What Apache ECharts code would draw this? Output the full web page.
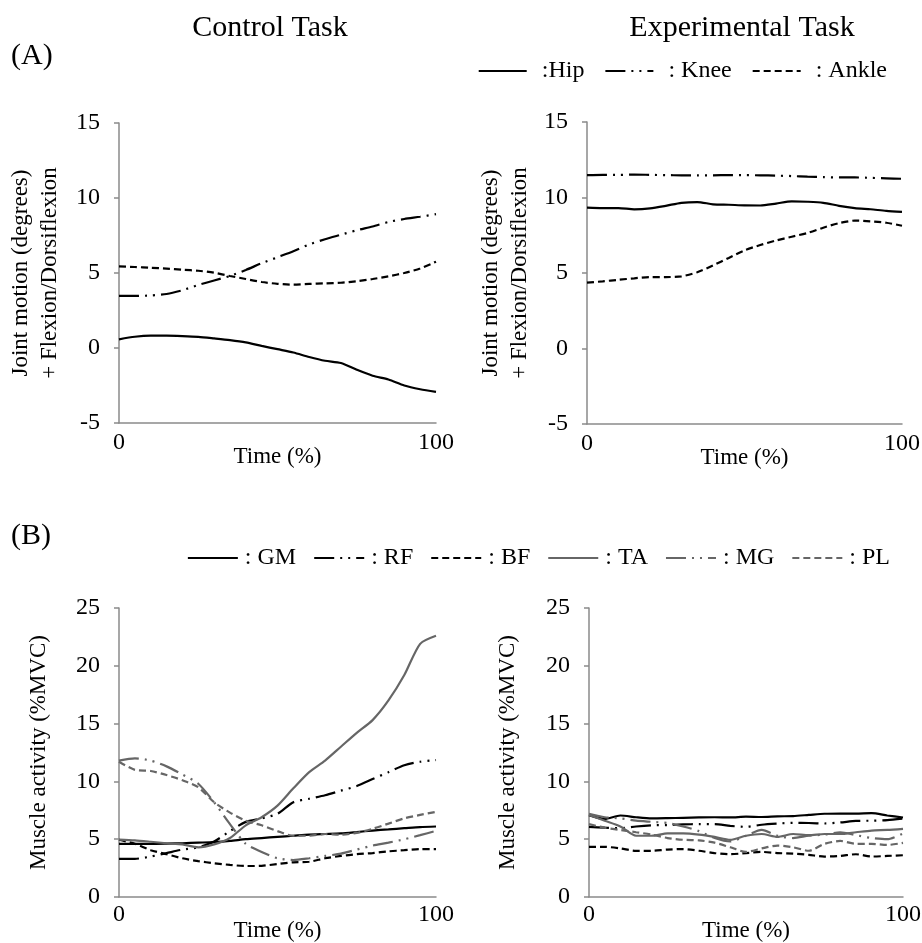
<!DOCTYPE html>
<html>
<head>
<meta charset="utf-8">
<script src="https://cdn.jsdelivr.net/npm/echarts@6/dist/echarts.min.js"></script>
<style>
  html, body { margin: 0; padding: 0; background: #fff; }
  #chart { width: 922px; height: 943px; }
</style>
</head>
<body>
<div id="chart"></div>
<script>
// time axis, % of task
var time = [0, 5, 10, 15, 20, 25, 30, 35, 40, 45, 50, 55, 60, 65, 70, 75, 80, 85, 90, 95, 100];

// (A) joint motion, control task
var ctrlHip   = [0.58, 0.75, 0.82, 0.82, 0.79, 0.74, 0.64, 0.53, 0.38, 0.14, -0.08, -0.3, -0.6, -0.85, -1.0, -1.45, -1.85, -2.1, -2.5, -2.75, -2.93];
var ctrlKnee  = [3.47, 3.47, 3.5, 3.6, 3.85, 4.2, 4.5, 4.8, 5.2, 5.65, 6.05, 6.45, 6.9, 7.25, 7.55, 7.85, 8.1, 8.4, 8.6, 8.75, 8.92];
var ctrlAnkle = [5.44, 5.4, 5.35, 5.29, 5.22, 5.15, 5.02, 4.8, 4.6, 4.4, 4.28, 4.22, 4.27, 4.31, 4.35, 4.45, 4.6, 4.78, 5.0, 5.3, 5.75];

// (A) joint motion, experimental task
var expHip   = [9.33, 9.3, 9.3, 9.22, 9.28, 9.45, 9.65, 9.7, 9.55, 9.52, 9.48, 9.47, 9.6, 9.75, 9.72, 9.65, 9.45, 9.3, 9.22, 9.12, 9.05];
var expKnee  = [11.48, 11.5, 11.5, 11.52, 11.5, 11.48, 11.47, 11.46, 11.47, 11.48, 11.48, 11.47, 11.45, 11.42, 11.38, 11.35, 11.33, 11.33, 11.3, 11.27, 11.24];
var expAnkle = [4.36, 4.45, 4.55, 4.65, 4.73, 4.73, 4.78, 5.05, 5.5, 6.0, 6.5, 6.85, 7.15, 7.4, 7.65, 8.0, 8.3, 8.47, 8.42, 8.33, 8.13];

// (B) muscle activity, control task
var ctrlGM = [4.6, 4.6, 4.6, 4.62, 4.65, 4.7, 4.75, 4.85, 5.0, 5.1, 5.2, 5.3, 5.4, 5.45, 5.5, 5.62, 5.75, 5.85, 5.95, 6.05, 6.1];
var ctrlRF = [3.3, 3.3, 3.5, 3.8, 4.1, 4.3, 4.8, 5.7, 6.5, 6.8, 7.2, 8.2, 8.5, 8.8, 9.2, 9.6, 10.2, 10.8, 11.4, 11.7, 11.85];
var ctrlBF = [4.95, 4.6, 4.05, 3.7, 3.35, 3.1, 2.92, 2.78, 2.68, 2.7, 2.85, 3.0, 3.05, 3.35, 3.55, 3.7, 3.8, 3.95, 4.05, 4.15, 4.15];
var ctrlTA = [4.97, 4.9, 4.78, 4.65, 4.55, 4.3, 4.55, 5.1, 6.2, 6.9, 7.9, 9.4, 10.8, 11.8, 13.0, 14.2, 15.3, 17.0, 19.2, 21.9, 22.6];
var ctrlMG = [11.8, 12.0, 11.8, 11.3, 10.6, 9.8, 8.2, 6.3, 4.6, 3.9, 3.35, 3.2, 3.35, 3.55, 3.75, 4.1, 4.45, 4.7, 5.0, 5.35, 5.72];
var ctrlPL = [11.7, 11.0, 10.9, 10.55, 10.1, 9.5, 8.2, 7.3, 6.6, 6.2, 5.7, 5.3, 5.3, 5.45, 5.4, 5.55, 5.9, 6.35, 6.8, 7.1, 7.37];

// (B) muscle activity, experimental task
var expGM = [7.08, 6.75, 7.05, 6.9, 6.8, 6.82, 6.85, 6.88, 6.9, 6.88, 6.95, 6.92, 6.98, 7.0, 7.1, 7.2, 7.22, 7.22, 7.25, 7.05, 6.88];
var expRF = [6.07, 6.0, 5.95, 6.1, 6.2, 6.22, 6.28, 6.3, 6.3, 6.15, 6.07, 6.25, 6.35, 6.42, 6.4, 6.36, 6.45, 6.58, 6.6, 6.65, 6.79];
var expBF = [4.34, 4.34, 4.2, 3.99, 4.0, 4.1, 4.15, 4.0, 3.8, 3.7, 3.8, 3.9, 3.8, 3.76, 3.65, 3.5, 3.55, 3.7, 3.5, 3.55, 3.61];
var expTA = [7.1, 6.6, 6.1, 5.3, 5.3, 5.5, 5.5, 5.4, 5.2, 4.95, 5.3, 5.45, 5.2, 5.45, 5.35, 5.45, 5.45, 5.6, 5.75, 5.8, 5.9];
var expMG = [7.2, 6.9, 6.8, 6.6, 6.5, 6.4, 6.1, 5.7, 5.1, 4.8, 5.3, 5.8, 5.3, 5.1, 5.3, 5.4, 5.6, 5.35, 5.1, 5.0, 5.5];
var expPL = [6.3, 6.0, 5.8, 5.6, 5.4, 5.1, 4.95, 4.9, 4.7, 4.3, 3.9, 4.2, 4.45, 4.3, 4.0, 4.6, 4.85, 4.6, 4.6, 4.5, 4.68];

var jointNames  = [':Hip', ': Knee', ': Ankle'];
var muscleNames = [': GM', ': RF', ': BF', ': TA', ': MG', ': PL'];

var FONT = 'Liberation Serif';
var AXIS_GREY = '#8a8a8a';
var BLACK = '#000';
var GREY = '#666';
var DASH = [7, 4];
var DASHDOTDOT = [20, 6, 2, 6, 2, 6];

var chart = echarts.init(document.getElementById('chart'));

function pairs(vals) {
  return time.map(function (t, i) { return [t, vals[i]]; });
}

function line(name, vals, idx, color, type) {
  return {
    name: name,
    type: 'line',
    xAxisIndex: idx,
    yAxisIndex: idx,
    data: pairs(vals),
    showSymbol: false,
    symbol: 'none',
    smooth: 0.25,
    lineStyle: { color: color, width: 2.2, type: type },
    itemStyle: { color: color },
    emphasis: { disabled: true }
  };
}

function xAx(idx, margin, gap) {
  return {
    type: 'value', gridIndex: idx, min: 0, max: 100, interval: 100,
    name: 'Time (%)', nameLocation: 'middle', nameGap: gap, nameMoveOverlap: false,
    nameTextStyle: { fontFamily: FONT, fontSize: 23, color: BLACK },
    axisLine: { onZero: false, lineStyle: { color: AXIS_GREY, width: 1.5 } },
    axisTick: { show: false },
    splitLine: { show: false },
    axisLabel: { margin: margin, fontFamily: FONT, fontSize: 24, color: BLACK }
  };
}

function yAx(idx, min, max, name, gap) {
  return {
    type: 'value', gridIndex: idx, min: min, max: max, interval: 5,
    name: name, nameLocation: 'middle', nameGap: gap, nameRotate: 90, nameMoveOverlap: false,
    nameTextStyle: { fontFamily: FONT, fontSize: 23, color: BLACK, lineHeight: 29 },
    axisLine: { show: true, onZero: false, lineStyle: { color: AXIS_GREY, width: 1.5 } },
    axisTick: { show: true, length: 5, lineStyle: { color: AXIS_GREY, width: 1.5 } },
    splitLine: { show: false },
    axisLabel: { margin: 19, fontFamily: FONT, fontSize: 24, color: BLACK }
  };
}

var jointLabel = 'Joint motion (degrees)\n+ Flexion/Dorsiflexion';
var muscleLabel = 'Muscle activity (%MVC)';

var legendCommon = {
  orient: 'horizontal',
  itemHeight: 14,
  selectedMode: false,
  itemStyle: { opacity: 0 }
};

var option = {
  backgroundColor: '#fff',
  animation: false,
  textStyle: { fontFamily: FONT },
  graphic: [
    { type: 'text', x: 270, y: 28, style: { text: 'Control Task', font: '30px "Liberation Serif"', fill: BLACK, textAlign: 'center', textVerticalAlign: 'middle' } },
    { type: 'text', x: 742, y: 28, style: { text: 'Experimental Task', font: '30px "Liberation Serif"', fill: BLACK, textAlign: 'center', textVerticalAlign: 'middle' } },
    { type: 'text', x: 11, y: 56, style: { text: '(A)', font: '30px "Liberation Serif"', fill: BLACK, textAlign: 'left', textVerticalAlign: 'middle' } },
    { type: 'text', x: 11, y: 536, style: { text: '(B)', font: '30px "Liberation Serif"', fill: BLACK, textAlign: 'left', textVerticalAlign: 'middle' } }
  ],
  legend: [
    Object.assign({}, legendCommon, {
      data: jointNames, right: 30, top: 54,
      itemWidth: 48, itemGap: 20,
      textStyle: { fontFamily: FONT, fontSize: 24, color: BLACK, padding: [0, 0, 0, 10] }
    }),
    Object.assign({}, legendCommon, {
      data: muscleNames, right: 27, top: 541,
      itemWidth: 50, itemGap: 17,
      textStyle: { fontFamily: FONT, fontSize: 24, color: BLACK, padding: [0, 0, 0, 2] }
    })
  ],
  grid: [
    { left: 119, top: 123, width: 317, height: 300, outerBoundsMode: 'none' },
    { left: 587, top: 122, width: 315, height: 302, outerBoundsMode: 'none' },
    { left: 119, top: 608, width: 317, height: 289, outerBoundsMode: 'none' },
    { left: 589, top: 608, width: 314, height: 289, outerBoundsMode: 'none' }
  ],
  xAxis: [xAx(0, 8, 22), xAx(1, 8, 22), xAx(2, 6, 22), xAx(3, 6, 22)],
  yAxis: [
    yAx(0, -5, 15, jointLabel, 55),
    yAx(1, -5, 15, jointLabel, 53),
    yAx(2, 0, 25, muscleLabel, 66),
    yAx(3, 0, 25, muscleLabel, 67)
  ],
  series: [
    line(':Hip', ctrlHip, 0, BLACK, 'solid'),
    line(': Knee', ctrlKnee, 0, BLACK, DASHDOTDOT),
    line(': Ankle', ctrlAnkle, 0, BLACK, DASH),
    line(':Hip', expHip, 1, BLACK, 'solid'),
    line(': Knee', expKnee, 1, BLACK, DASHDOTDOT),
    line(': Ankle', expAnkle, 1, BLACK, DASH),

    line(': GM', ctrlGM, 2, BLACK, 'solid'),
    line(': RF', ctrlRF, 2, BLACK, DASHDOTDOT),
    line(': BF', ctrlBF, 2, BLACK, DASH),
    line(': TA', ctrlTA, 2, GREY, 'solid'),
    line(': MG', ctrlMG, 2, GREY, DASHDOTDOT),
    line(': PL', ctrlPL, 2, GREY, DASH),
    line(': GM', expGM, 3, BLACK, 'solid'),
    line(': RF', expRF, 3, BLACK, DASHDOTDOT),
    line(': BF', expBF, 3, BLACK, DASH),
    line(': TA', expTA, 3, GREY, 'solid'),
    line(': MG', expMG, 3, GREY, DASHDOTDOT),
    line(': PL', expPL, 3, GREY, DASH)
  ]
};

chart.setOption(option);
</script>
</body>
</html>
